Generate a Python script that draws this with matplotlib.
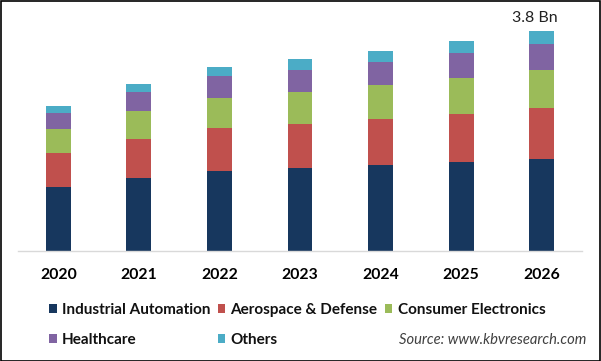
import matplotlib
matplotlib.use("Agg")
import matplotlib.pyplot as plt
from matplotlib.patches import Rectangle
import numpy as np

years = ["2020", "2021", "2022", "2023", "2024", "2025", "2026"]
series_names = ["Industrial Automation", "Aerospace & Defense", "Consumer Electronics",
                "Healthcare", "Others"]
industrial = [1.11, 1.26, 1.38, 1.43, 1.49, 1.54, 1.59]
aerospace = [0.59, 0.67, 0.74, 0.76, 0.79, 0.83, 0.88]
consumer = [0.41, 0.48, 0.52, 0.55, 0.59, 0.62, 0.66]
healthcare = [0.28, 0.33, 0.38, 0.38, 0.40, 0.43, 0.45]
others = [0.12, 0.14, 0.16, 0.19, 0.19, 0.21, 0.22]
total_label = "3.8 Bn"

colors = ["#17375E", "#C0504D", "#9BBB59", "#8064A2", "#4BACC6"]

plt.rcParams['font.family'] = ['Lato', 'DejaVu Sans']

fig = plt.figure(figsize=(6.01, 3.61), dpi=100)
W, H = 601, 361
ax = fig.add_axes([18 / W, 1 - 251 / H, 564 / W, 241 / H])

x = np.arange(len(years))
bottom = np.zeros(len(years))
handles = []
for vals, c, name in zip([industrial, aerospace, consumer, healthcare, others], colors, series_names):
    b = ax.bar(x, vals, width=0.31, bottom=bottom, color=c, label=name)
    handles.append(b)
    bottom += np.array(vals)

ax.set_xlim(-0.5, len(years) - 0.5)
ax.set_ylim(0, 4.16)
ax.set_yticks([])
ax.set_xticks(x)
ax.set_xticklabels(years, fontsize=11.3, fontweight='bold')
ax.tick_params(axis='x', length=0, pad=12)
for s in ["left", "right", "top"]:
    ax.spines[s].set_visible(False)
ax.spines["bottom"].set_color("#D9D9D9")
ax.spines["bottom"].set_linewidth(1.0)

ax.annotate(total_label, xy=(x[-1], bottom[-1]), xytext=(-5, 4.5), textcoords="offset points",
            ha="center", va="bottom", fontsize=11.5, color="#222222")

# row-major order for a 3-column legend
order = [0, 3, 1, 4, 2]
leg = fig.legend([handles[i] for i in order], [series_names[i] for i in order],
                 loc="upper left", bbox_to_anchor=(49 / W, 1 - 303 / H), ncol=3, frameon=False,
                 fontsize=11.0, handlelength=0.52, handleheight=0.52, handletextpad=0.33,
                 columnspacing=0.46, labelspacing=1.05, borderaxespad=0, borderpad=0)
for t in leg.get_texts():
    t.set_fontweight('bold')
    t.set_color("#111111")

fig.text(586 / W, 1 - 340 / H, "Source: www.kbvresearch.com", ha="right", va="center",
         fontsize=10.6, style="italic", color="#404040")

fig.patches.append(Rectangle((0.5 / W, 0.5 / H), 1 - 1.5 / W, 1 - 1.5 / H, transform=fig.transFigure,
                             fill=False, edgecolor="#000000", linewidth=1.2))

fig.savefig("out.png", dpi=100)
